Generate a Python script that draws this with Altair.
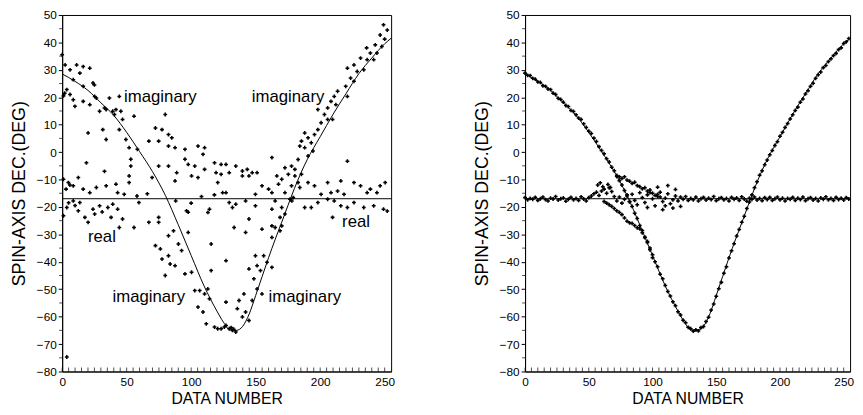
import altair as alt
import pandas as pd

# ---------------- fitted model curve (DATA NUMBER vs declination) ----------------
curve_x = [0, 10, 20, 30, 40, 50, 60, 70, 80, 90, 100, 110, 120, 125, 130, 135, 140,
           145, 150, 160, 165, 170, 175, 180, 185, 190, 195, 200, 210, 220, 230, 240, 250, 255]
curve_y = [28.5, 25.8, 22.5, 18.0, 13.4, 7.2, 0.2, -7.1, -15.8, -26.5, -37.7, -48.8, -58.0,
           -62.0, -64.8, -65.0, -63.5, -59.0, -52.3, -38.5, -32.0, -25.8, -19.5, -13.3, -7.7,
           -2.7, 1.6, 5.6, 13.8, 21.3, 28.6, 34.3, 39.5, 41.5]
real_level = [-17]

# ---------------- left panel: noisy solutions ----------------
left_upper = [(0, 35.5), (2.3, 31.8), (6.1, 30.0), (11.2, 31.8), (16.3, 31.2), (21.4, 30.6),
              (13.7, 28.8), (23.9, 25.2), (25, 24.5), (8.6, 26.4), (3.6, 22.8), (6.1, 21.0),
              (8.6, 19.1), (9.9, 16.7), (16.3, 18.5), (21.4, 17.3), (26.5, 19.7), (29.0, 14.9),
              (32.8, 16.1), (36.6, 19.7), (39.2, 14.9), (41.7, 15.5), (45.5, 14.9), (46.8, 11.9),
              (44.3, 20.3), (55.7, 13.1), (31.5, 8.2), (20.1, 7.0), (34.1, 4.6), (49.4, 4.6),
              (51.9, 1.6), (18.8, -3.9), (53.2, -2.6), (53.2, -5.1), (51.9, -8.7), (51.9, -11.1),
              (41.7, -11.7), (16.3, 24.0), (25.2, 20.3), (34.1, 15.5), (40.5, 13.7), (44.3, 8.2),
              (58.3, 1.0), (69.7, -9.3), (1, 20.5), (2, 21.5), (32.8, -7.0)]
left_upper_mid = [(72.3, 8.8), (77.4, 8.2), (79.9, 13.7), (82.4, 6.4), (85.0, 5.2), (67.2, 4.0),
                  (74.8, 4.0), (82.4, 2.2), (87.5, 1.6), (95.2, 1.0), (105.3, 2.2), (110.4, 1.6),
                  (109.2, -0.8), (74.8, -5.1), (82.4, -5.1), (95.2, -2.6), (97.7, -4.5),
                  (102.8, -5.1), (110.4, -6.3), (118.1, -3.9), (123.2, -4.5), (119.3, -7.5),
                  (123.2, -8.1), (88.8, -7.5), (87.5, -10.5), (100.3, -8.7), (105.3, -9.3),
                  (120.6, -11.1), (124.4, -14.8)]
left_real_above = [(1.0, -9.9), (4.8, -11.1), (8.6, -12.3), (12.5, -9.3), (16.3, -13.5),
                   (21.4, -14.8), (26.5, -12.9), (34.1, -12.3), (43.0, -14.8), (48.1, -15.4),
                   (3, -13.5), (6, -12.0), (127.0, -4.5), (134.6, -5.1), (139.7, -6.9),
                   (143.5, -6.3), (147.3, -7.5), (151.1, -7.5), (129.5, -7.5), (139.7, -8.7),
                   (144.8, -8.7), (172.7, -5.7), (177.8, -5.1), (180.4, -6.3), (175.3, -8.1),
                   (180.4, -8.7), (185.5, -8.1), (182.9, -11.1), (170.2, -9.9), (166.4, -8.7),
                   (167.7, -11.7), (154.9, -12.3), (160.0, -13.5), (162.6, -14.8), (172.7, -14.8),
                   (177.8, -12.3), (184.2, -12.9), (190.6, -11.1), (195.6, -12.3), (205.8, -11.1),
                   (216.0, -10.5), (221.1, -3.3), (226.2, -11.1), (231.3, -12.3), (238.9, -13.5),
                   (246.5, -12.3), (250.4, -11.1), (244.0, -14.8), (236.4, -14.8), (200.7, -15.4),
                   (208.4, -14.8), (213.5, -14.2), (218.5, -15.4), (127.0, -14.8), (149.8, -15.4),
                   (58, -16.0), (66, -15.2), (108, -16.2), (118, -15.6)]
left_real_below = [(129.5, -18.4), (134.6, -19.0), (142.2, -17.8), (149.8, -19.6), (165.1, -17.8),
                   (170.2, -20.2), (176.6, -17.2), (178, -17.8), (179.1, -16.6), (188.0, -20.2),
                   (193.1, -20.2), (198.2, -18.4), (205.8, -17.2), (210.9, -17.8), (216.0, -19.6),
                   (221.1, -20.2), (226.2, -18.4), (233.8, -20.2), (241.5, -19.6), (249.1, -20.8),
                   (209.6, -23.8), (132.0, -20.2), (144.8, -24.4), (162.6, -20.8), (252, -21.5),
                   (3.6, -20.2), (8.6, -17.8), (13.7, -18.4), (12.5, -21.4), (17.6, -23.8),
                   (20.1, -25.6), (23.9, -20.8), (25.2, -22.6), (29.0, -19.6), (35.4, -20.2),
                   (39.2, -19.0), (43.0, -20.8), (37.9, -23.8), (46.8, -24.4), (44.3, -27.5),
                   (55.7, -27.5), (59.5, -18.4), (67.2, -25.6), (74.8, -23.8), (74.8, -25.6),
                   (1.0, -23.2), (5, -18.5), (10, -19.5), (31, -21.8), (113.0, -22.0),
                   (114.2, -20.8), (96.4, -21.4), (97.7, -21.9), (100, -18.6), (88, -17.8)]
left_upper_right = [(249.1, 46.4), (246.5, 42.7), (242.7, 39.1), (247.8, 38.5), (238.9, 36.1),
                    (244.0, 36.1), (236.4, 33.7), (231.3, 34.3), (241.5, 33.7), (226.2, 31.8),
                    (233.8, 30.0), (228.7, 29.4), (221.1, 30.6), (223.6, 27.0), (226.2, 25.8),
                    (219.8, 24.0), (221.1, 20.3), (213.5, 22.2), (210.9, 20.3), (208.4, 18.5),
                    (212.2, 17.3), (205.8, 16.1), (198.2, 15.5), (203.3, 13.7), (205.8, 11.9),
                    (209.6, 11.9), (200.7, 10.7), (198.2, 8.2), (195.6, 6.4), (188.0, 7.0),
                    (190.6, 5.2), (185.5, 4.0), (193.1, 3.4), (184.2, 2.2), (188.0, 1.6),
                    (194.4, 0.4), (190.6, -1.4), (182.9, -2.7), (162.6, -2.0), (252, 44.5),
                    (250, 41.2), (236, 38.0)]
left_lower = [(172.7, -22.6), (168.9, -23.8), (162.6, -26.9), (165.1, -27.5), (170.2, -26.9),
              (154.9, -28.1), (142.2, -29.3), (133.3, -27.5), (162.6, -31.1), (168.9, -28.7),
              (127.0, -39.6), (149.8, -37.8), (156.2, -37.8), (151.1, -41.4), (153.7, -43.2),
              (162.6, -42.0), (144.8, -42.6), (158.8, -40.2), (148.6, -46.2), (151.1, -49.9),
              (154.9, -51.7), (140.9, -51.7), (137.1, -54.1), (127.0, -54.7), (147.3, -54.1),
              (135.8, -57.1), (142.2, -58.3), (144.8, -61.4), (139.7, -60.1), (127.0, -63.2),
              (132.0, -65.0), (134.6, -65.6), (129.5, -64.4), (131, -64.0), (133, -64.6),
              (82.4, -30.5), (86.3, -28.7), (97.7, -29.3), (72.3, -34.1), (76.1, -35.3),
              (90.1, -33.5), (92.6, -35.9), (82.4, -37.8), (77.4, -39.0), (83.7, -40.8),
              (87.5, -41.4), (79.9, -45.0), (95.2, -44.4), (100.3, -43.8), (115.5, -43.2),
              (115.5, -33.5), (102.8, -50.5), (106.6, -50.5), (112.9, -49.9), (110.4, -51.7),
              (114.2, -53.5), (105.3, -56.5), (109.2, -58.3), (111.7, -62.6), (118.1, -63.8),
              (120.6, -64.4), (123.2, -64.4), (125.7, -63.8), (3.6, -74.7)]

# ---------------- right panel: clean solutions ----------------
right_track_x = list(range(0, 256, 2))
right_curve_track = [28.8, 28.0, 27.9, 26.9, 26.6, 25.6, 25.4, 24.2, 24.0, 23.0, 22.8, 21.5, 21.0,
                     19.6, 19.2, 18.2, 17.0, 16.6, 15.2, 14.8, 13.6, 12.4, 11.9, 10.3, 9.0, 7.6,
                     6.8, 5.1, 3.9, 2.0, 0.6, -0.6, -2.4, -3.6, -5.5, -6.8, -8.9, -10.4, -12.0,
                     -14.0, -15.6, -18.1, -19.8, -22.3, -24.2, -26.8, -28.6, -31.2, -33.0, -35.6,
                     -37.4, -40.0, -41.8, -44.5, -46.2, -48.6, -50.8, -52.5, -54.6, -56.0, -58.2,
                     -59.4, -61.3, -62.2, -63.9, -64.4, -65.3, -64.8, -65.2, -64.0, -63.6, -61.8,
                     -60.2, -57.6, -55.4, -52.6, -49.8, -47.5, -44.2, -41.8, -38.6, -36.0, -33.4,
                     -30.6, -28.2, -25.6, -23.4, -20.6, -18.2, -15.6, -13.0, -10.8, -8.4, -6.8,
                     -4.6, -2.9, -1.0, 0.6, 2.4, 3.8, 5.8, 7.2, 9.0, 10.4, 12.1, 13.6, 15.2, 16.4,
                     18.2, 19.4, 21.2, 22.4, 24.0, 25.1, 26.9, 28.2, 29.2, 30.8, 31.6, 33.0, 34.0,
                     35.2, 36.0, 37.4, 38.0, 39.6, 40.2, 41.4]
right_real_track = [-16.6, -17.4, -16.9, -17.2, -16.5, -17.6, -17.0, -16.4, -17.3, -17.8, -16.8,
                    -17.1, -16.2, -17.5, -17.0, -16.7, -17.9, -17.2, -16.5, -17.4, -16.9, -17.6,
                    -16.3, -17.1, -17.8, -16.6, -16.0, -15.2, -14.6, -15.8, -14.2, -13.5, -15.0,
                    -13.0, -14.4, -16.2, -17.8, -16.4, -18.6, -17.2, -16.0, -18.0, -15.4, -17.6,
                    -19.2, -14.8, -16.6, -18.4, -15.6, -13.8, -17.0, -19.6, -16.2, -14.6, -18.0,
                    -16.8, -15.2, -18.8, -17.4, -16.0, -17.8, -16.4, -17.2, -16.2, -17.6, -16.9,
                    -17.4, -16.4, -17.8, -17.0, -16.5, -17.5, -16.8, -17.3, -16.2, -17.7, -17.0,
                    -16.6, -17.4, -16.9, -17.8, -16.5, -17.2, -16.7, -17.6, -16.3, -17.1, -17.9,
                    -16.8, -17.2, -16.4, -17.5, -16.9, -17.7, -16.6, -17.3, -16.5, -17.6, -17.0,
                    -16.4, -17.4, -16.8, -17.8, -16.9, -17.2, -16.5, -17.6, -16.8, -17.3, -16.4,
                    -17.7, -17.0, -16.6, -17.5, -16.9, -17.8, -16.7, -17.2, -16.3, -17.4, -16.9,
                    -17.6, -16.5, -17.3, -16.8, -17.5, -16.6, -17.1]
right_side_upper = [(72, -8.5), (74, -9.0), (76, -9.6), (78, -9.0), (80, -10.2), (82, -10.6),
                    (84, -11.4), (86, -11.0), (88, -12.2), (90, -12.6), (92, -13.4), (94, -13.0),
                    (96, -14.2), (98, -14.8), (100, -15.0), (102, -15.8), (104, -15.4), (106, -16.4),
                    (57, -12.0), (59, -11.2), (61, -12.6), (65, -11.8), (67, -12.9)]
right_side_lower = [(62, -18.0), (64, -18.6), (66, -19.2), (68, -19.8), (70, -20.6), (72, -21.4),
                    (74, -22.0), (76, -22.8), (78, -24.0), (80, -25.2), (82, -25.8), (84, -26.0),
                    (86, -26.8), (88, -27.6), (90, -28.0), (92, -29.4), (94, -31.0), (96, -32.6),
                    (98, -35.0), (100, -38.5)]
right_scatter = [(104, -12.8), (108, -21.0), (112, -12.2), (116, -20.4), (118, -13.6), (122, -19.8),
                 (96, -20.2), (110, -19.6)]

# ---------------- annotations & ticks ----------------
label_text = ["imaginary", "imaginary", "real", "real", "imaginary", "imaginary"]
label_x = [48, 147, 20, 217, 39, 160]
label_y = [20, 20, -31, -25.5, -52.8, -52.8]
x_label_values = [0, 50, 100, 150, 200, 250]
x_minor_ticks = list(range(0, 255, 5))
y_label_values = [50, 40, 30, 20, 10, 0, -10, -20, -30, -40, -50, -60, -70, -80]
y_minor_ticks = list(range(-75, 50, 10))

FONT = "Liberation Sans"
H = 362

XSCALE = alt.Scale(domain=[0, 255], nice=False, zero=False)
YSCALE = alt.Scale(domain=[-80, 50], nice=False, zero=False)
XAXIS = alt.Axis(values=x_label_values, title="DATA  NUMBER", ticks=False,
                 labelPadding=5, labelFontSize=12, titleFontSize=16,
                 titleFontWeight="normal", titlePadding=3, grid=False,
                 labelFlush=False, labelOverlap=False, labelFont=FONT, titleFont=FONT)
YAXIS = alt.Axis(values=y_label_values, tickCount=14, title="SPIN-AXIS DEC.(DEG)",
                 tickSize=4, labelPadding=2, labelFontSize=12, titleFontSize=18,
                 titleFontWeight="normal", titlePadding=8, grid=False,
                 labelFlush=False, labelOverlap=False, labelFont=FONT, titleFont=FONT)


def pts(pairs):
    return pd.DataFrame({"x": [p[0] for p in pairs], "y": [p[1] for p in pairs]})


def panel(points_df, w, labels):
    xs = alt.X("x:Q", scale=XSCALE, axis=XAXIS)
    ys = alt.Y("y:Q", scale=YSCALE, axis=YAXIS)
    pts_layer = alt.Chart(points_df).mark_point(
        shape="cross", filled=True, size=15, color="black", opacity=1
    ).encode(x=xs, y=ys)
    curve_layer = alt.Chart(pd.DataFrame({"x": curve_x, "y": curve_y})).mark_line(
        color="black", strokeWidth=1, interpolate="monotone"
    ).encode(x=xs, y=ys)
    rule_layer = alt.Chart(pd.DataFrame({"y": real_level})).mark_rule(
        color="black", strokeWidth=1
    ).encode(y=ys)
    xtick_layer = alt.Chart(pd.DataFrame({"x": x_minor_ticks})).mark_tick(
        orient="vertical", size=4, thickness=1, color="black"
    ).encode(x=xs, y=alt.value(H - 2))
    ytick_layer = alt.Chart(pd.DataFrame({"y": y_minor_ticks})).mark_tick(
        orient="horizontal", size=3, thickness=1, color="black"
    ).encode(y=ys, x=alt.value(-1.5))
    layers = [pts_layer, curve_layer, rule_layer, xtick_layer, ytick_layer]
    if labels:
        text_layer = alt.Chart(pd.DataFrame({"x": label_x, "y": label_y, "t": label_text})).mark_text(
            align="left", baseline="middle", fontSize=17, font=FONT, color="black"
        ).encode(x=xs, y=ys, text="t:N")
        layers.append(text_layer)
    return alt.layer(*layers).properties(width=w, height=H)


left_df = pts(left_upper + left_upper_mid + left_real_above + left_real_below
              + left_upper_right + left_lower)
right_pairs = ([(x, y) for x, y in zip(right_track_x, right_curve_track)]
               + [(x, y) for x, y in zip(right_track_x, right_real_track)]
               + right_side_upper + right_side_lower + right_scatter)
right_df = pts(right_pairs)

left = panel(left_df, 334, True)
right = panel(right_df, 330, False)

chart = alt.hconcat(left, right, spacing=136, bounds="flush").properties(
    padding={"left": 2, "top": -3, "right": 0, "bottom": 0}
).configure_view(stroke="black", strokeWidth=1).configure_axis(
    domainColor="black", tickColor="black", labelColor="black", titleColor="black"
)

chart.save("out.html", embed_options={"renderer": "svg", "actions": False})
